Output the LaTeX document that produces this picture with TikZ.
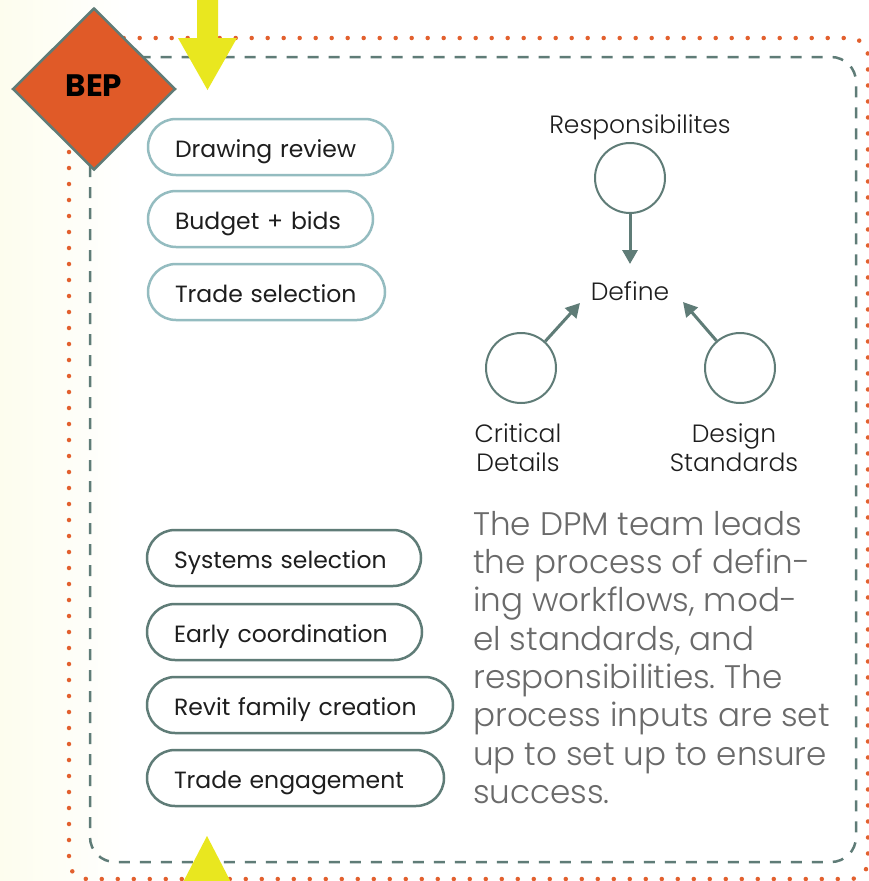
\documentclass[tikz,border=0pt]{standalone}
\usepackage{fontspec}
\setmainfont{Poppins}
\newfontfamily\plight{Poppins Light}
\usetikzlibrary{arrows.meta,shapes.geometric}
\definecolor{orng}{HTML}{E05A28}
\definecolor{dotc}{HTML}{E2602E}
\definecolor{tealg}{HTML}{5F7C77}
\definecolor{pilll}{HTML}{94BCC0}
\definecolor{yel}{HTML}{E9E71F}
\definecolor{txt}{HTML}{1E1E1E}
\definecolor{para}{HTML}{6A6A6A}
\definecolor{cream}{HTML}{FDFDEE}
\frenchspacing
\begin{document}
\begin{tikzpicture}[x=1pt,y=-1pt,
  pillA/.style={draw=pilll, line width=2.5pt, rounded corners=28pt, minimum height=56pt,
    inner xsep=27pt, inner ysep=0pt, align=left, text height=22pt, text depth=2pt,
    font=\fontsize{23.5}{26}\selectfont, text=txt},
  pillB/.style={pillA, draw=tealg},
  circ/.style={circle, draw=tealg, line width=2pt, minimum size=70pt, inner sep=0pt},
  lbl/.style={font=\plight\fontsize{25}{29}\selectfont, text=txt, align=center, inner sep=0pt},
  arr/.style={draw=tealg, line width=3pt, -{Triangle[length=14pt,width=15pt]}},
]
\useasboundingbox (0,0) rectangle (869,881);
\clip (0,0) rectangle (869,881);
\fill[white] (0,0) rectangle (869,881);
\shade[left color=cream, right color=white] (0,0) rectangle (130,881);

% orange dotted frame
\draw[dotc, line width=4.5pt, line cap=round, dash pattern=on 0pt off 16pt, rounded corners=18pt]
  (69,38) rectangle (868,879);
% gray dashed frame
\draw[tealg, line width=2.5pt, dash pattern=on 11pt off 10pt, rounded corners=25pt]
  (90,57) rectangle (856,862);

% yellow arrows
\fill[yel] (197,-5) -- (218,-5) -- (218,38) -- (237,38) -- (207.5,90) -- (178,38) -- (197,38) -- cycle;
\fill[yel] (207,836) -- (235,890) -- (179,890) -- cycle;

% BEP diamond
\node[diamond, draw=tealg, fill=orng, line width=2.5pt, minimum width=163pt, minimum height=162pt,
  inner sep=0pt] (bep) at (94,89) {};
\node[font=\bfseries\fontsize{31}{34}\selectfont, text=black, inner sep=0pt] (beplbl) at (94,86) {BEP};

% pills
\node[pillA, text width=191pt] (p1) at (270.5,147) {Drawing review};
\node[pillA, text width=171pt] (p2) at (260.5,219) {Budget + bids};
\node[pillA, text width=183pt] (p3) at (266.5,292) {Trade selection};
\node[pillB, text width=220pt] (q1) at (284,558) {Systems selection};
\node[pillB, text width=221pt] (q2) at (284.5,632) {Early coordination};
\node[pillB, text width=252pt] (q3) at (300,705) {Revit family creation};
\node[pillB, text width=243pt] (q4) at (295.5,778) {Trade engagement};

% define graph
\node[circ] (rc) at (630,178) {};
\node[circ] (cc) at (521,368) {};
\node[circ] (dc) at (740,368) {};
\node[lbl] (resp) at (640,127) {Responsibilites};
\node[lbl] (define) at (630,291) {Define};
\node[lbl] (crit) at (518,448) {Critical\\Details};
\node[lbl] (design) at (734,448) {Design\\Standards};
\coordinate (dtop) at (630,264);
\coordinate (dtl) at (580,303);
\coordinate (dtr) at (683,302);
\draw[arr] (rc) -- (dtop);
\draw[arr] (cc) -- (dtl);
\draw[arr] (dc) -- (dtr);

% paragraph
\node[anchor=north west, align=left, inner sep=0pt, text=para, font=\plight\fontsize{32.6}{38.3}\selectfont] (txt) at (473,511)
{The DPM team leads\\the process of defin-\\ing workflows, mod-\\el standards, and\\responsibilities. The\\process inputs are set\\up to set up to ensure\\success.};
\end{tikzpicture}
\end{document}
